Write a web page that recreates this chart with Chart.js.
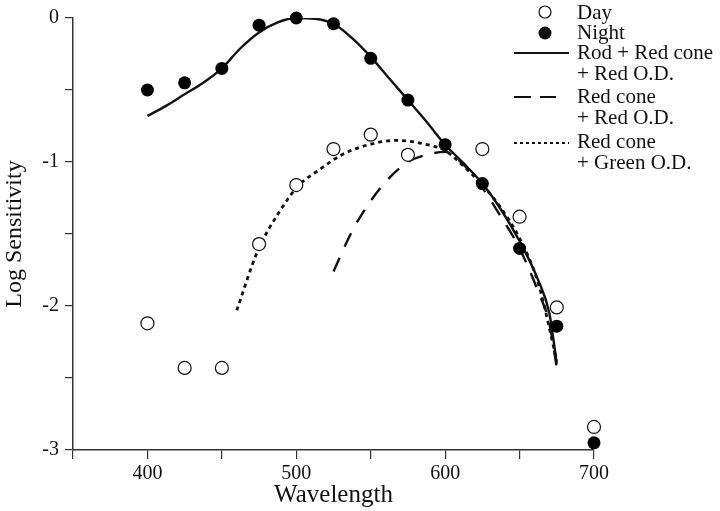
<!DOCTYPE html>
<html>
<head>
<meta charset="utf-8">
<script src="https://cdn.jsdelivr.net/npm/chart.js@4"></script>
<style>
  html, body { margin: 0; padding: 0; background: #fff; }
  #wrap { width: 720px; height: 511px; position: relative; }
</style>
</head>
<body>
<div id="wrap"><canvas id="sens-chart"></canvas></div>
<script>
// measured points
const wavelengths = [400, 425, 450, 475, 500, 525, 550, 575, 600, 625, 650, 675, 700];
const dayValues   = [-2.12, -2.43, -2.43, -1.57, -1.16, -0.91, -0.81, -0.95, null, -0.91, -1.38, -2.01, -2.84];
const nightValues = [-0.50, -0.45, -0.35, -0.05, 0.00, -0.04, -0.28, -0.57, -0.88, -1.15, -1.60, -2.14, -2.95];

// model curves
const rodX = [400, 412.5, 425, 437.5, 450, 462.5, 475, 487.5, 500, 512.5, 525, 537.5, 550, 562.5, 575, 587.5, 600, 612.5, 625, 637.5, 650, 662.5, 670, 675];
const rodY = [-0.68, -0.61, -0.53, -0.45, -0.35, -0.21, -0.10, -0.03, 0.00, -0.005, -0.04, -0.14, -0.27, -0.42, -0.57, -0.72, -0.88, -1.01, -1.15, -1.33, -1.55, -1.82, -2.05, -2.40];

const redConeX = [525, 537.5, 550, 562.5, 575, 587.5, 600, 612.5, 625, 637.5, 650, 662.5, 670, 675];
const redConeY = [-1.76, -1.48, -1.27, -1.11, -1.00, -0.95, -0.93, -1.02, -1.18, -1.38, -1.60, -1.90, -2.12, -2.43];

const greenODX = [460, 474, 489, 501, 516, 531.5, 550, 568, 592, 600, 612.5, 625, 637.5, 650, 662.5, 675];
const greenODY = [-2.03, -1.62, -1.34, -1.17, -1.05, -0.945, -0.876, -0.85, -0.89, -0.92, -1.03, -1.16, -1.32, -1.53, -1.84, -2.38];

// axis ticks
const xTickLabels = [400, 500, 600, 700];
const yTickLabels = [0, -1, -2, -3];

const SERIF = '"Liberation Serif", "Times New Roman", serif';

const pts = (xs, ys) => xs.map((x, i) => ({ x, y: ys[i] })).filter(p => p.y !== null);

const curve = (label, xs, ys, dash, width) => ({
  label,
  data: pts(xs, ys),
  showLine: true,
  borderColor: '#111',
  borderWidth: width,
  borderDash: dash,
  pointRadius: 0,
  fill: false,
  cubicInterpolationMode: 'monotone',
  order: 3,
});

// legend drawn at the right, over the plot
const sideLegend = {
  id: 'sideLegend',
  afterDraw(chart) {
    const ctx = chart.ctx;
    ctx.save();
    ctx.fillStyle = '#111';
    ctx.strokeStyle = '#111';
    ctx.font = '21px ' + SERIF;
    ctx.textBaseline = 'middle';
    const tx = 577;

    // Day
    ctx.beginPath();
    ctx.lineWidth = 1.2;
    ctx.arc(545, 12, 6, 0, Math.PI * 2);
    ctx.fillStyle = '#fff';
    ctx.fill();
    ctx.stroke();
    ctx.fillStyle = '#111';
    ctx.fillText('Day', tx, 13);

    // Night
    ctx.beginPath();
    ctx.arc(545, 33, 6.5, 0, Math.PI * 2);
    ctx.fill();
    ctx.fillText('Night', tx, 33);

    // solid
    ctx.lineWidth = 2.2;
    ctx.setLineDash([]);
    ctx.beginPath();
    ctx.moveTo(514, 53); ctx.lineTo(569, 53);
    ctx.stroke();
    ctx.fillText('Rod + Red cone', tx, 53);
    ctx.fillText('+ Red O.D.', tx, 74);

    // dashed
    ctx.setLineDash([17, 9]);
    ctx.beginPath();
    ctx.moveTo(514, 97); ctx.lineTo(556, 97);
    ctx.stroke();
    ctx.fillText('Red cone', tx, 97);
    ctx.fillText('+ Red O.D.', tx, 118);

    // dotted
    ctx.setLineDash([3, 3]);
    ctx.lineWidth = 2;
    ctx.beginPath();
    ctx.moveTo(514, 143); ctx.lineTo(569, 143);
    ctx.stroke();
    ctx.setLineDash([]);
    ctx.fillText('Red cone', tx, 142);
    ctx.fillText('+ Green O.D.', tx, 163);
    ctx.restore();
  }
};

const ctx = document.getElementById('sens-chart').getContext('2d');
new Chart(ctx, {
  type: 'scatter',
  data: {
    datasets: [
      {
        label: 'Day',
        data: pts(wavelengths, dayValues),
        pointRadius: 6.5,
        pointBackgroundColor: '#fff',
        pointBorderColor: '#111',
        pointBorderWidth: 1.2,
        clip: false,
        order: 2,
      },
      {
        label: 'Night',
        data: pts(wavelengths, nightValues),
        pointRadius: 6.5,
        pointBackgroundColor: '#000',
        pointBorderColor: '#000',
        pointBorderWidth: 0,
        clip: false,
        order: 1,
      },
      curve('Rod + Red cone + Red O.D.', rodX, rodY, [], 2.4),
      curve('Red cone + Red O.D.', redConeX, redConeY, [15, 12], 2.4),
      curve('Red cone + Green O.D.', greenODX, greenODY, [4, 4], 2.8),
    ]
  },
  options: {
    responsive: true,
    maintainAspectRatio: false,
    animation: false,
    layout: { padding: { top: 15, right: 126, bottom: 0, left: 0 } },
    plugins: {
      legend: { display: false },
      tooltip: { enabled: false },
    },
    scales: {
      x: {
        type: 'linear',
        min: 350,
        max: 700,
        afterFit: (s) => { s.height = 61; },
        ticks: {
          stepSize: 50,
          autoSkip: false,
          maxRotation: 0,
          padding: 3,
          color: '#111',
          font: { family: SERIF, size: 20 },
          callback: (v) => (xTickLabels.includes(v) ? String(v) : ''),
        },
        grid: { drawOnChartArea: false, drawTicks: true, tickLength: 9, color: '#333', lineWidth: 1.2 },
        border: { color: '#333', width: 1.5 },
        title: { display: true, text: 'Wavelength', color: '#111', padding: { top: 0, bottom: 1 }, font: { family: SERIF, size: 25 } },
      },
      y: {
        min: -3,
        max: 0,
        afterFit: (s) => { s.width = 73; },
        ticks: {
          stepSize: 0.5,
          autoSkip: false,
          padding: 6,
          color: '#111',
          font: { family: SERIF, size: 20 },
          callback: (v) => (yTickLabels.includes(v) ? String(v) : ''),
        },
        grid: { drawOnChartArea: false, drawTicks: true, tickLength: 8, color: '#333', lineWidth: 1.2 },
        border: { color: '#333', width: 1.5 },
        title: { display: true, text: 'Log Sensitivity', color: '#111', padding: 0, font: { family: SERIF, size: 24 } },
      }
    }
  },
  plugins: [sideLegend]
});
</script>
</body>
</html>
